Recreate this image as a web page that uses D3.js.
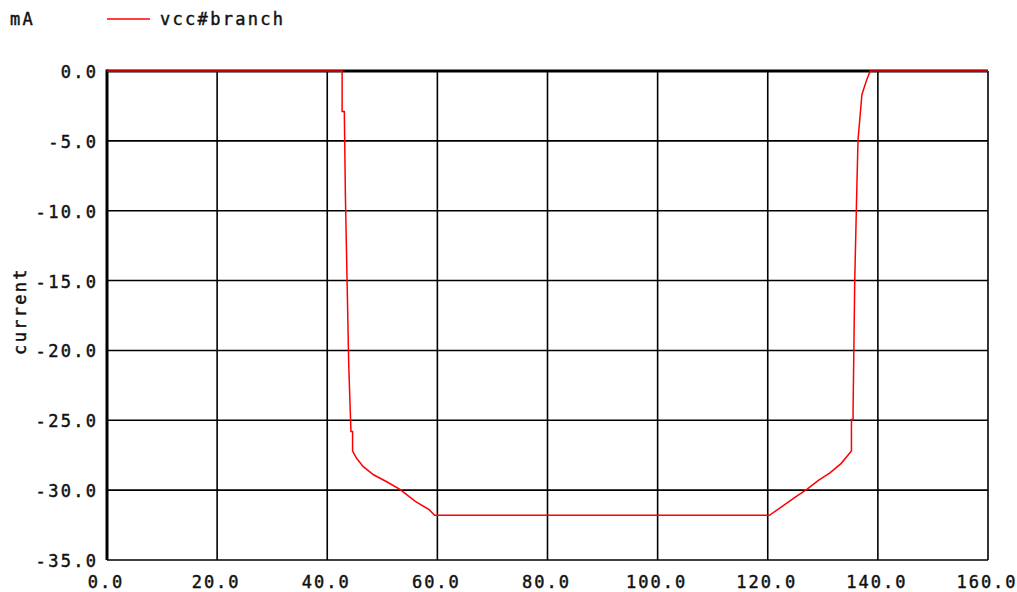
<!DOCTYPE html>
<html>
<head>
<meta charset="utf-8">
<script src="https://cdn.jsdelivr.net/npm/d3@7"></script>
<style>
  html, body { margin: 0; padding: 0; background: #fff; }
  svg { display: block; }
  text { font-family: "DejaVu Sans Mono", monospace; font-size: 17px; letter-spacing: 2.3px; fill: #111; stroke: #111; stroke-width: 0.45px; }
  .xlab { letter-spacing: 2px; }
</style>
</head>
<body>
<svg id="chart" width="1017" height="592"></svg>
<script>
// vcc#branch current (mA) versus sweep value
const sweepX = [0, 42.7, 42.7, 43.1, 43.3, 43.6, 43.9, 44.3, 44.6, 44.6, 45.3, 46.5, 48.4, 50.8, 53.2, 56.0, 58.5, 59.5,
                120.3, 122.5, 125.0, 127.1, 129.2, 131.3, 133.3, 135.2, 135.2, 135.5, 135.5, 135.8, 136.2, 136.4, 137.1, 137.5, 138.0, 138.6, 160];
const currentMA = [0, 0, -2.9, -2.9, -9, -15, -21, -25.8, -25.8, -27.2, -27.7, -28.3, -28.9, -29.4, -29.95, -30.8, -31.4, -31.8,
                   -31.8, -31.2, -30.5, -29.95, -29.3, -28.76, -28.1, -27.2, -24.95, -24.95, -24.2, -15, -8, -4.9, -1.7, -1.2, -0.6, 0, 0];
const xTicks = [0, 20, 40, 60, 80, 100, 120, 140, 160];
const yTicks = [0, -5, -10, -15, -20, -25, -30, -35];
const seriesName = "vcc#branch";
const unitLabel = "mA";
const axisTitle = "current";

const svg = d3.select("#chart");
const plotL = 107, plotR = 988, plotT = 71, plotB = 560;
const spacing = 2.3; // trailing letter-spacing to compensate for in anchored text

const x = d3.scaleLinear().domain([0, 160]).range([plotL, plotR]);
const y = d3.scaleLinear().domain([-35, 0]).range([plotB, plotT]);

// grid
const grid = svg.append("g").attr("stroke", "#000").attr("stroke-width", 1.6);
grid.selectAll("line.v").data(xTicks).join("line").attr("class", "v")
  .attr("x1", d => x(d)).attr("x2", d => x(d)).attr("y1", plotT).attr("y2", plotB);
grid.selectAll("line.h").data(yTicks).join("line").attr("class", "h")
  .attr("x1", plotL).attr("x2", plotR).attr("y1", d => y(d)).attr("y2", d => y(d));

// heavier left axis and zero line
svg.append("line").attr("x1", plotL).attr("x2", plotL).attr("y1", plotT - 1.5).attr("y2", plotB)
  .attr("stroke", "#000").attr("stroke-width", 3);
svg.append("line").attr("x1", plotL).attr("x2", plotR).attr("y1", y(0)).attr("y2", y(0))
  .attr("stroke", "#000").attr("stroke-width", 3);

// tick labels
svg.append("g").selectAll("text").data(yTicks).join("text")
  .attr("x", 96 + spacing).attr("y", d => y(d) + 7).attr("text-anchor", "end")
  .text(d => d3.format(".1f")(d).replace("\u2212", "-"));
svg.append("g").selectAll("text").data(xTicks).join("text")
  .attr("class", "xlab")
  .attr("x", d => x(d) - 2 + 1).attr("y", 588).attr("text-anchor", "middle")
  .text(d => d3.format(".1f")(d));

// axis title and unit
svg.append("text").attr("transform", "translate(26,311) rotate(-90)").attr("text-anchor", "middle").text(axisTitle);
svg.append("text").attr("x", 10).attr("y", 25).text(unitLabel);

// legend
svg.append("line").attr("x1", 107).attr("x2", 150).attr("y1", 19).attr("y2", 19)
  .attr("stroke", "#ff0000").attr("stroke-width", 1.5);
svg.append("text").attr("x", 160).attr("y", 25).text(seriesName);

// trace
const pts = sweepX.map((v, i) => [v, currentMA[i]]);
svg.append("path").datum(pts)
  .attr("fill", "none").attr("stroke", "#ff0000").attr("stroke-width", 1.5)
  .attr("d", d3.line().x(d => x(d[0])).y(d => y(d[1])));
</script>
</body>
</html>
